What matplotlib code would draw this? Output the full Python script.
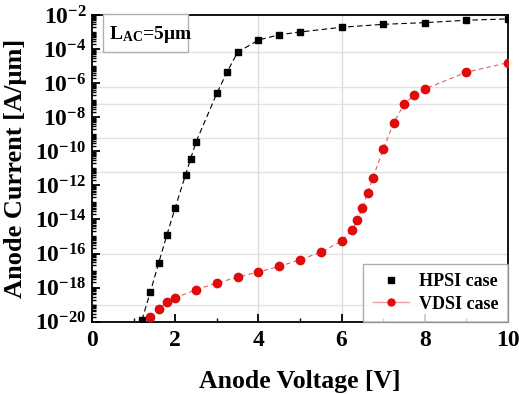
import matplotlib
matplotlib.use("Agg")
import matplotlib.pyplot as plt
from matplotlib.ticker import FixedLocator, NullFormatter, MultipleLocator
from matplotlib.patches import Rectangle
from matplotlib.lines import Line2D
import numpy as np

plt.rcParams['font.family'] = ['Liberation Serif', 'DejaVu Serif']
plt.rcParams['font.weight'] = 'bold'
plt.rcParams['mathtext.fontset'] = 'custom'
plt.rcParams['mathtext.rm'] = 'Liberation Serif:bold'
plt.rcParams['mathtext.bf'] = 'Liberation Serif:bold'
plt.rcParams['mathtext.it'] = 'Liberation Serif:bold'

# HPSI case (black squares)
hpsi_v = [1.2, 1.4, 1.6, 1.8, 2.0, 2.25, 2.37, 2.5, 3.0, 3.25, 3.5, 4.0, 4.5, 5.0, 6.0, 7.0, 8.0, 9.0, 10.0]
hpsi_log = [-19.9, -18.27, -16.57, -14.91, -13.31, -11.37, -10.43, -9.46, -6.6, -5.33, -4.19, -3.47,
            -3.16, -3.0, -2.72, -2.55, -2.45, -2.31, -2.23]

# VDSI case (red circles)
vdsi_v = [1.4, 1.6, 1.8, 2.0, 2.5, 3.0, 3.5, 4.0, 4.5, 5.0, 5.5, 6.0, 6.25, 6.375, 6.5, 6.625,
          6.75, 7.0, 7.25, 7.5, 7.75, 8.0, 9.0, 10.0]
vdsi_log = [-19.74, -19.24, -18.86, -18.6, -18.12, -17.73, -17.39, -17.08, -16.76, -16.36, -15.93,
            -15.26, -14.6, -14.06, -13.31, -12.44, -11.58, -9.88, -8.33, -7.24, -6.69, -6.34,
            -5.36, -4.8]

hpsi_i = [10.0 ** v for v in hpsi_log]
vdsi_i = [10.0 ** v for v in vdsi_log]

ytick_exps = [-20, -18, -16, -14, -12, -10, -8, -6, -4, -2]
ytick_labels = [r'$\mathbf{10^{%d}}$' % e for e in ytick_exps]
xtick_vals = [0, 2, 4, 6, 8, 10]

fig = plt.figure(figsize=(5.19, 3.94), dpi=100)
ax = fig.add_axes([0.1773, 0.1835, 0.8015, 0.7785])

# light background grid lines (as in the reference)
for e in [-4.17, -6.2, -7.2, -9.2, -11.2, -16.0, -19.0]:
    ax.axhline(10.0 ** e, color='#e2e2e2', lw=1.0, zorder=0)
for xv in [4, 6]:
    ax.axvline(xv, color='#dcdcdc', lw=1.0, zorder=0)

ax.plot(hpsi_v, hpsi_i, color='black', lw=0.8, ls=(0, (5, 3)), zorder=2)
ax.plot(hpsi_v, hpsi_i, ls='none', marker='s', ms=5, color='black', zorder=3)
ax.plot(vdsi_v, vdsi_i, color='#e06060', lw=0.8, ls=(0, (4, 3)), zorder=2)
ax.plot(vdsi_v, vdsi_i, ls='none', marker='o', ms=6, color='#e00b0b', zorder=3)

ax.set_yscale('log')
ax.set_xlim(0, 10)
ax.set_ylim(1e-20, 1e-2)

ax.yaxis.set_major_locator(FixedLocator([10.0 ** e for e in ytick_exps]))
ax.set_yticklabels(ytick_labels)
minors = []
for d in range(-20, -2):
    for s in range(1, 10):
        val = s * 10.0 ** d
        if s == 1 and d % 2 == 0:
            continue
        minors.append(val)
ax.yaxis.set_minor_locator(FixedLocator(minors))
ax.yaxis.set_minor_formatter(NullFormatter())

ax.set_xticks(xtick_vals)
ax.set_xticklabels([str(v) for v in xtick_vals])
ax.xaxis.set_minor_locator(MultipleLocator(1))

ax.tick_params(axis='both', which='major', direction='in', length=6, width=1.3, labelsize=17)
ax.tick_params(axis='both', which='minor', direction='in', length=3, width=1.0)
ax.tick_params(axis='y', which='major', pad=4)
ax.tick_params(axis='x', which='major', pad=6)
for sp in ax.spines.values():
    sp.set_linewidth(1.3)

ax.set_xlabel('Anode Voltage [V]', fontsize=18.5, fontweight='bold', labelpad=14)
ax.set_ylabel('Anode Current [A/\u03bcm]', fontsize=19, fontweight='bold', labelpad=6)

# text box
ax.add_patch(Rectangle((0.026, 0.879), 0.205, 0.125, transform=ax.transAxes,
                       facecolor='white', edgecolor='#b0b0b0', lw=1.0, zorder=4, clip_on=False))
ax.text(0.04, 0.935, r'$\mathbf{L_{AC}}$' + '=5\u03bcm', transform=ax.transAxes, fontsize=14,
        fontweight='bold', va='center', ha='left', zorder=5)

handles = [Line2D([], [], ls='none', marker='s', ms=4, color='black'),
           Line2D([], [], color='#e8a0a0', lw=1.0, marker='o', ms=5, mfc='#e00b0b', mec='#e00b0b')]
leg = ax.legend(handles, ['HPSI case', 'VDSI case'], loc='lower right', fontsize=13,
                frameon=True, fancybox=False, edgecolor='#999999', borderaxespad=0.0,
                handlelength=2.0, handletextpad=0.6, borderpad=0.5, labelspacing=0.3)
leg.get_frame().set_linewidth(1.0)
for t in leg.get_texts():
    t.set_fontweight('bold')

fig.savefig('out.png', dpi=100)
